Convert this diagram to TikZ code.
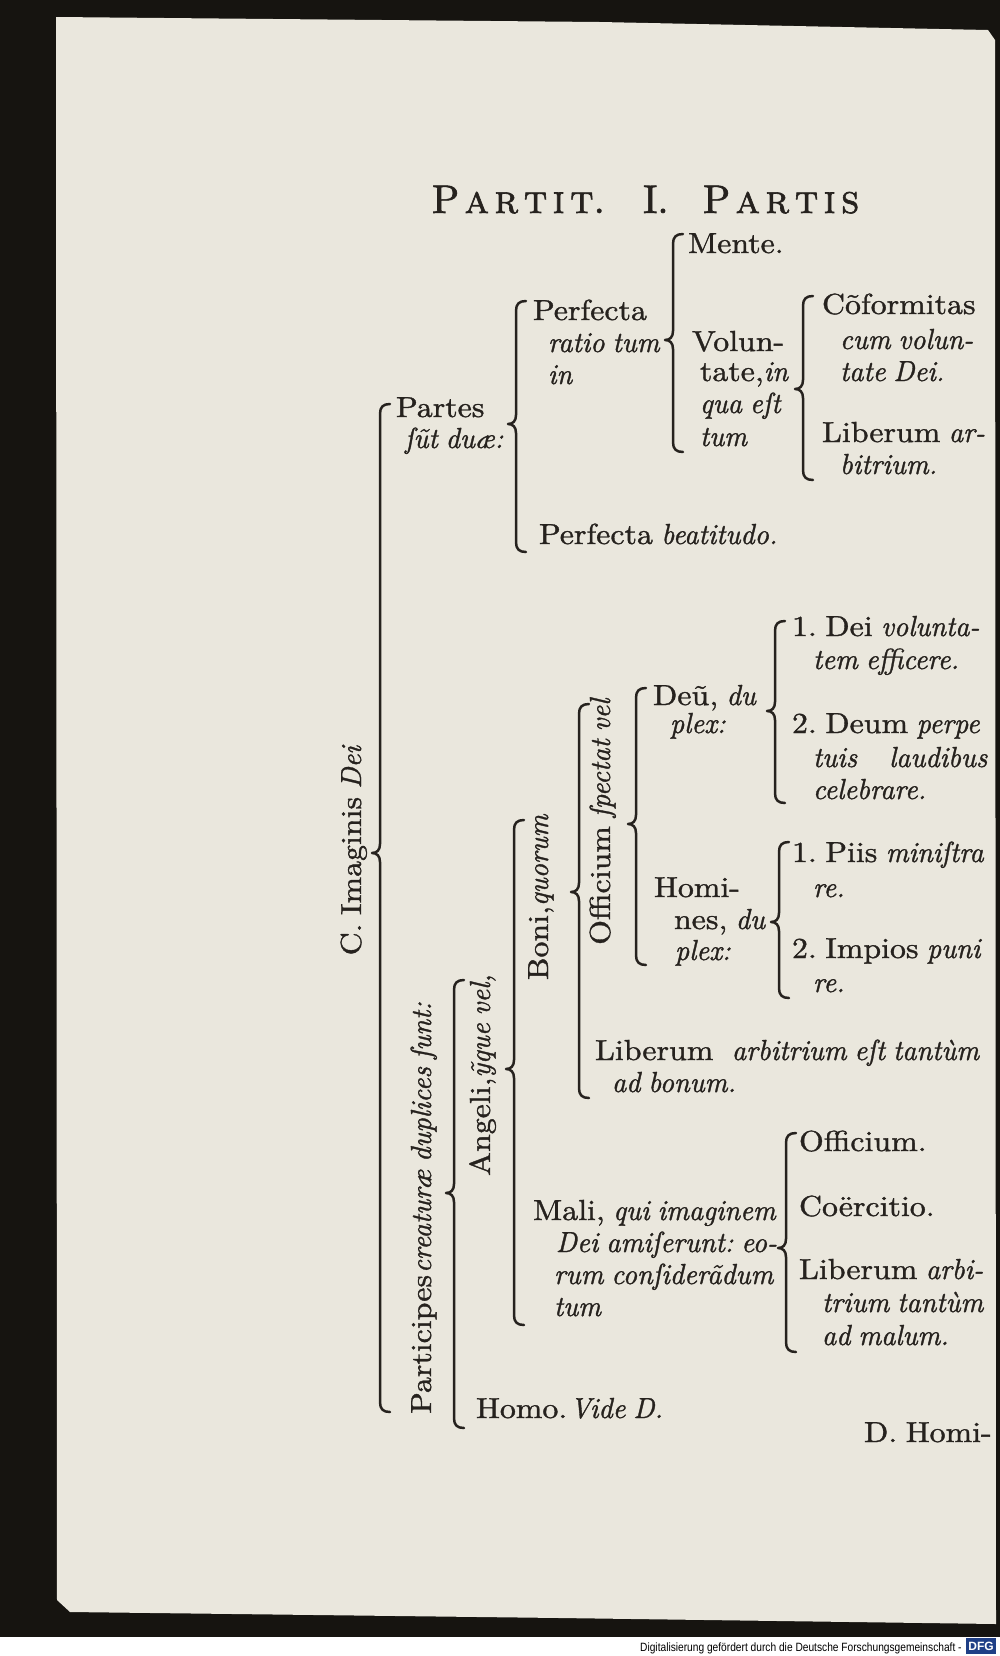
\documentclass[tikz,border=0pt]{standalone}
\usepackage{fontspec}
\setmainfont{lmroman10-regular.otf}[
  ItalicFont=lmroman10-italic.otf,
  BoldFont=lmroman10-bold.otf,
  SmallCapsFont=lmromancaps10-regular.otf,
  UprightFeatures={FakeStretch=1.1},
  ItalicFeatures={FakeStretch=0.96},
  WordSpace=0.8,
  FakeBold=1.2]
\newfontfamily\ttlfont{lmroman10-regular.otf}[SmallCapsFont=lmromancaps10-regular.otf, FakeBold=1.5]
\newfontfamily\dfgfont{Liberation Sans}
\definecolor{ink}{HTML}{26221E}
\definecolor{paper}{HTML}{EAE7DD}
\definecolor{bgdark}{HTML}{161410}
\definecolor{dfgblue}{HTML}{1F3F86}
\tikzset{
  txt/.style={anchor=base west, inner sep=0pt, outer sep=0pt, text=ink, font=\fontsize{14.5}{16}\selectfont\frenchspacing},
  rtxt/.style={anchor=base, inner sep=0pt, outer sep=0pt, rotate=90, text=ink, font=\fontsize{14.5}{16}\selectfont\frenchspacing},
  ttl/.style={anchor=base west, inner sep=0pt, outer sep=0pt, text=ink, font=\ttlfont\fontsize{20}{22}\selectfont},
  brk/.style={draw=ink, line width=1.25pt, line cap=round, line join=round},
}
% brace: name, x, top, mid, bottom
\newcommand\Brace[5]{%
  \coordinate (#1-t) at (#2+10,#3);
  \coordinate (#1-m) at (#2-8,#4);
  \coordinate (#1-b) at (#2+10,#5);
  \draw[brk] (#1-t) .. controls (#2+3,#3) and (#2,#3+3) .. (#2,#3+10)
    -- (#2,#4-9) .. controls (#2,#4-3) and (#2-3,#4) .. (#1-m)
    .. controls (#2-3,#4) and (#2,#4+3) .. (#2,#4+9)
    -- (#2,#5-10) .. controls (#2,#5-3) and (#2+3,#5) .. (#1-b);
}
\newcommand\ytil{\rlap{\char"02DC}y}
\newcommand\lsp{\kern2.65pt}
\begin{document}
\begin{tikzpicture}[x=0.5pt,y=-0.5pt]
\useasboundingbox (0,0) rectangle (1000,1656);
% background and page
\fill[bgdark] (0,0) rectangle (1000,1656);
\fill[white] (0,1637) rectangle (1000,1656);
\fill[paper] (56,17) -- (600,22) -- (988,30) -- (995,40) -- (996,1624) -- (560,1618) -- (70,1612) -- (57,1600) -- cycle;

% title
\node[ttl] (t1) at (432,213) {P\lsp\textsc{a\lsp r\lsp t\lsp i\lsp t}.};
\node[ttl] (t2) at (643,213) {I.};
\node[ttl] (t3) at (703,213) {P\lsp\textsc{a\lsp r\lsp t\lsp i\lsp s}};

% top section
\node[txt] (mente) at (688,253) {Mente.};
\node[txt] (pr1) at (533,320) {Perfecta};
\node[txt] (pr2) at (548,352) {\textit{ratio tum}};
\node[txt] (pr3) at (548,384) {\textit{in}};
\node[txt] (vo1) at (692,351) {Volun-};
\node[txt] (vo2) at (700,381) {tate,\textit{in}};
\node[txt] (vo3) at (700,413) {\textit{qua eſt}};
\node[txt] (vo4) at (700,446) {\textit{tum}};
\node[txt] (co1) at (822,314) {Cõformitas};
\node[txt] (co2) at (840,349) {\textit{cum volun-}};
\node[txt] (co3) at (840,381) {\textit{tate Dei.}};
\node[txt] (li1) at (822,442) {Liberum \textit{ar-}};
\node[txt] (li2) at (840,474) {\textit{bitrium.}};
\node[txt] (pa1) at (396,417) {Partes};
\node[txt] (pa2) at (405,448) {\textit{ſũt duæ:}};
\node[txt] (pb) at (539,544) {Perfecta \textit{beatitudo.}};

% rotated labels
\node[rtxt] (imag) at (361,850) {C. Imaginis \textit{Dei}};
\node[rtxt] (part) at (431,1208) {Participes\kern1pt\textit{creaturæ duplices ſunt:}};
\node[rtxt] (ang) at (490,1075) {Angeli,\textit{\ytil que vel,}};
\node[rtxt] (boni) at (548,897) {Boni,\textit{quorum}};
\node[rtxt] (off) at (610,821) {Officium \textit{ſpectat vel}};

% Deum / Homines
\node[txt] (de1) at (653,705) {Deũ, \textit{du}};
\node[txt] (de2) at (670,733) {\textit{plex:}};
\node[txt] (d11) at (792,636) {1. Dei \textit{volunta-}};
\node[txt] (d12) at (813,669) {\textit{tem efficere.}};
\node[txt] (d21) at (792,733) {2. Deum \textit{perpe}};
\node[txt] (d22) at (813,767) {\textit{tuis\hspace{16pt}laudibus}};
\node[txt] (d23) at (813,799) {\textit{celebrare.}};
\node[txt] (ho1) at (654,897) {Homi-};
\node[txt] (ho2) at (674,929) {nes, \textit{du}};
\node[txt] (ho3) at (675,960) {\textit{plex:}};
\node[txt] (h11) at (792,862) {1. Piis \textit{miniſtra}};
\node[txt] (h12) at (813,897) {\textit{re.}};
\node[txt] (h21) at (792,958) {2. Impios \textit{puni}};
\node[txt] (h22) at (813,992) {\textit{re.}};
\node[txt] (lb1) at (595,1060) {Liberum\hspace{5pt} \textit{arbitrium eſt tantùm}};
\node[txt] (lb2) at (612,1092) {\textit{ad bonum.}};

% Mali
\node[txt] (ma1) at (533,1220) {Mali, \textit{qui imaginem}};
\node[txt] (ma2) at (556,1252) {\textit{Dei amiſerunt: eo-}};
\node[txt] (ma3) at (554,1284) {\textit{rum conſiderãdum}};
\node[txt] (ma4) at (554,1316) {\textit{tum}};
\node[txt] (mo1) at (799,1151) {Officium.};
\node[txt] (mo2) at (799,1216) {Coërcitio.};
\node[txt] (mo3) at (799,1279) {Liberum \textit{arbi-}};
\node[txt] (mo4) at (822,1312) {\textit{trium tantùm}};
\node[txt] (mo5) at (822,1345) {\textit{ad malum.}};
\node[txt] (homo) at (476,1418) {Homo.\kern1.5pt\textit{Vide D.}};
\node[txt] (dhomi) at (864,1442) {D. Homi-};

% braces
\Brace{b1}{380}{404}{853}{1412}
\Brace{b2}{454}{980}{1193}{1428}
\Brace{b3}{514}{820}{1069}{1325}
\Brace{b4}{579}{704}{892}{1098}
\Brace{b5}{636}{688}{824}{965}
\Brace{b6}{775}{621}{711}{803}
\Brace{b7}{779}{842}{922}{998}
\Brace{b8}{786}{1133}{1248}{1352}
\Brace{b9}{673}{234}{340}{452}
\Brace{b10}{803}{296}{389}{480}
\Brace{b11}{516}{301}{424}{552}

% digitisation credit
\node[anchor=base east, inner sep=0pt, text=black, font=\dfgfont\fontsize{6}{7}\selectfont, xscale=0.85] (dfgtxt) at (962,1651) {Digitalisierung gefördert durch die Deutsche Forschungsgemeinschaft -};
\node[anchor=west, fill=dfgblue, text=white, inner sep=1pt, minimum height=8pt, font=\dfgfont\bfseries\fontsize{6}{7}\selectfont] (dfglogo) at (966,1646) {DFG};
\end{tikzpicture}
\end{document}
